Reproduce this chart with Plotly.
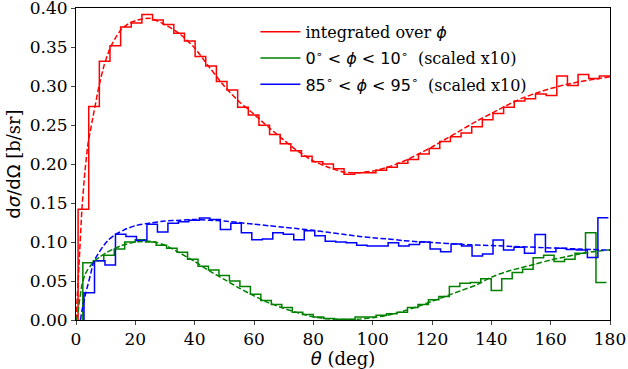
import numpy as np
import plotly.graph_objects as go

# ---------------- data ----------------
# histogram bin ranges (deg) and values (50 bins each)
red_range = (0.7, 180.0)
red_vals = [0.142, 0.274, 0.332, 0.352, 0.376, 0.381, 0.392, 0.385, 0.379, 0.368,
            0.358, 0.338, 0.326, 0.306, 0.295, 0.273, 0.263, 0.250, 0.238, 0.226,
            0.217, 0.210, 0.203, 0.200, 0.194, 0.187, 0.189, 0.189, 0.192, 0.196,
            0.201, 0.206, 0.213, 0.220, 0.229, 0.235, 0.240, 0.248, 0.257, 0.265,
            0.273, 0.281, 0.284, 0.290, 0.288, 0.313, 0.301, 0.315, 0.310, 0.313]

green_range = (2.3, 178.8)
green_vals = [0.0735, 0.076, 0.083, 0.091, 0.100, 0.103, 0.100, 0.096, 0.092, 0.087,
              0.078, 0.069, 0.064, 0.057, 0.050, 0.043, 0.033, 0.025, 0.020, 0.016,
              0.010, 0.007, 0.004, 0.002, 0.001, 0.001, 0.004, 0.004, 0.006, 0.008,
              0.010, 0.016, 0.020, 0.026, 0.030, 0.043, 0.047, 0.048, 0.053, 0.038,
              0.053, 0.061, 0.065, 0.080, 0.083, 0.075, 0.078, 0.0855, 0.112, 0.048]

blue_range = (2.7, 179.45)
blue_vals = [0.035, 0.076, 0.0705, 0.110, 0.107, 0.102, 0.123, 0.113, 0.124, 0.126,
             0.128, 0.131, 0.129, 0.116, 0.124, 0.112, 0.103, 0.104, 0.112, 0.110,
             0.103, 0.1145, 0.108, 0.101, 0.100, 0.099, 0.096, 0.095, 0.095, 0.099,
             0.095, 0.097, 0.100, 0.091, 0.0876, 0.0974, 0.0949, 0.082, 0.0846, 0.1026,
             0.0897, 0.0932, 0.0855, 0.1098, 0.0876, 0.0919, 0.0906, 0.0897, 0.0803, 0.1312]

# fitted (dashed) curves
red_fit_x = [0, 1, 2, 3, 4, 5.5, 7.75, 9.5, 11.4, 13, 15.3, 18, 20, 22, 25, 30, 35, 40, 45, 50,
             55, 60, 65, 70, 75, 80, 85, 90, 95, 100, 105, 110, 115, 120, 125, 130, 135,
             140, 145, 150, 155, 160, 165, 170, 175, 180]
red_fit_y = [0.0, 0.07, 0.142, 0.19, 0.225, 0.256, 0.300, 0.327, 0.348, 0.360, 0.373, 0.381,
             0.384, 0.386, 0.387, 0.379, 0.367, 0.349, 0.324, 0.300, 0.280, 0.264, 0.247,
             0.231, 0.216, 0.204, 0.196, 0.190, 0.189, 0.191, 0.196, 0.203, 0.212, 0.222,
             0.233, 0.244, 0.255, 0.265, 0.275, 0.284, 0.291, 0.297, 0.302, 0.306, 0.309, 0.312]

green_fit_x = [0, 0.5, 1, 2, 3, 4, 5, 6, 8, 10, 12, 15, 20, 25, 30, 35, 40, 45, 50, 55, 60,
               65, 70, 75, 80, 85, 90, 95, 100, 105, 110, 115, 120, 125, 130, 135, 140,
               145, 150, 155, 160, 165, 170, 175, 180]
green_fit_y = [0.0, 0.005, 0.02, 0.045, 0.058, 0.065, 0.070, 0.075, 0.081, 0.086, 0.090,
               0.095, 0.100, 0.101, 0.096, 0.086, 0.075, 0.063, 0.052, 0.041, 0.031, 0.022,
               0.015, 0.009, 0.004, 0.0015, 0.0005, 0.001, 0.003, 0.006, 0.011, 0.017,
               0.024, 0.031, 0.038, 0.045, 0.055, 0.062, 0.067, 0.072, 0.077, 0.081,
               0.085, 0.088, 0.090]

blue_fit_x = [1.5, 2, 3.3, 4, 5, 6, 8, 9.4, 11, 13, 17, 20, 25, 30, 35, 40, 45, 50, 55, 60,
              65, 70, 75, 80, 85, 90, 95, 100, 105, 110, 115, 120, 130, 140, 150, 160,
              170, 180]
blue_fit_y = [0.0, 0.012, 0.035, 0.045, 0.060, 0.075, 0.088, 0.096, 0.103, 0.109, 0.117,
              0.121, 0.1245, 0.127, 0.128, 0.129, 0.128, 0.127, 0.125, 0.123, 0.121, 0.119,
              0.117, 0.115, 0.1125, 0.110, 0.1075, 0.1055, 0.104, 0.102, 0.1005, 0.0995,
              0.097, 0.0955, 0.094, 0.0925, 0.091, 0.0895]

x_ticks = [0, 20, 40, 60, 80, 100, 120, 140, 160, 180]
y_ticks = [0.00, 0.05, 0.10, 0.15, 0.20, 0.25, 0.30, 0.35, 0.40]
y_tick_text = ["0.00", "0.05", "0.10", "0.15", "0.20", "0.25", "0.30", "0.35", "0.40"]

RED, GREEN, BLUE = "#ff0000", "#008000", "#0000ff"
SERIF = "DejaVu Serif"


def step_xy(rng, vals):
    edges = np.linspace(rng[0], rng[1], len(vals) + 1)
    xs = [edges[0]] + list(edges[:-1]) + [edges[-1]]
    ys = [0.0] + list(vals) + [vals[-1]]
    return xs, ys


lab_red = 'integrated over <span style="font-family:DejaVu Sans"><i>ϕ</i></span>'
lab_green = ('<span style="font-family:DejaVu Sans">0<sup>∘</sup> &lt; <i>ϕ</i> &lt; 10<sup>∘</sup></span>'
             '  (scaled x10)')
lab_blue = ('<span style="font-family:DejaVu Sans">85<sup>∘</sup> &lt; <i>ϕ</i> &lt; 95<sup>∘</sup></span>'
            '  (scaled x10)')

fig = go.Figure()
for i, (rng, vals, col, lab) in enumerate([(red_range, red_vals, RED, lab_red),
                                           (green_range, green_vals, GREEN, lab_green),
                                           (blue_range, blue_vals, BLUE, lab_blue)]):
    xs, ys = step_xy(rng, vals)
    fig.add_trace(go.Scatter(x=xs, y=ys, mode="lines", line=dict(color=col, width=1.5, shape="hv"),
                             name=lab, showlegend=True, legendgroup="g%d" % i))

for fx, fy, col in [(red_fit_x, red_fit_y, RED), (green_fit_x, green_fit_y, GREEN),
                    (blue_fit_x, blue_fit_y, BLUE)]:
    fig.add_trace(go.Scatter(x=fx, y=fy, mode="lines",
                             line=dict(color=col, width=1.5, dash="5.5px,2.4px", shape="spline",
                                       smoothing=0.6),
                             showlegend=False, hoverinfo="skip"))

fig.update_layout(
    width=628, height=369,
    margin=dict(l=76, r=18, t=8, b=49, autoexpand=False),
    paper_bgcolor="white", plot_bgcolor="white",
    font=dict(family=SERIF, size=16, color="black"),
    showlegend=True,
    legend=dict(x=0.336, y=0.978, xanchor="left", yanchor="top",
                bgcolor="rgba(255,255,255,0)", borderwidth=0,
                font=dict(family=SERIF, size=16), itemwidth=40,
                tracegroupgap=2.5),
)
fig.update_xaxes(range=[0, 180], tickvals=x_ticks, ticks="outside", ticklen=4, tickwidth=1,
                 showline=True, linecolor="black", linewidth=1, mirror=True, showgrid=False,
                 zeroline=False, tickfont=dict(family=SERIF, size=17),
                 ticklabeloverflow="allow", automargin=False,
                 title=dict(text='<span style="font-family:DejaVu Sans"><i>θ</i></span> (deg)',
                            font=dict(family=SERIF, size=18)))
fig.update_yaxes(range=[0, 0.4003], tickvals=y_ticks, ticktext=y_tick_text, ticks="outside",
                 ticklen=4, tickwidth=1, showline=True, linecolor="black", linewidth=1,
                 mirror=True, showgrid=False, zeroline=False, tickfont=dict(family=SERIF, size=17),
                 ticklabeloverflow="allow", automargin=True,
                 title=dict(text='<span style="font-family:DejaVu Sans">d<i>σ</i>/dΩ</span> [b/sr]',
                            font=dict(family=SERIF, size=18), standoff=4))

fig.write_html("out.html")
